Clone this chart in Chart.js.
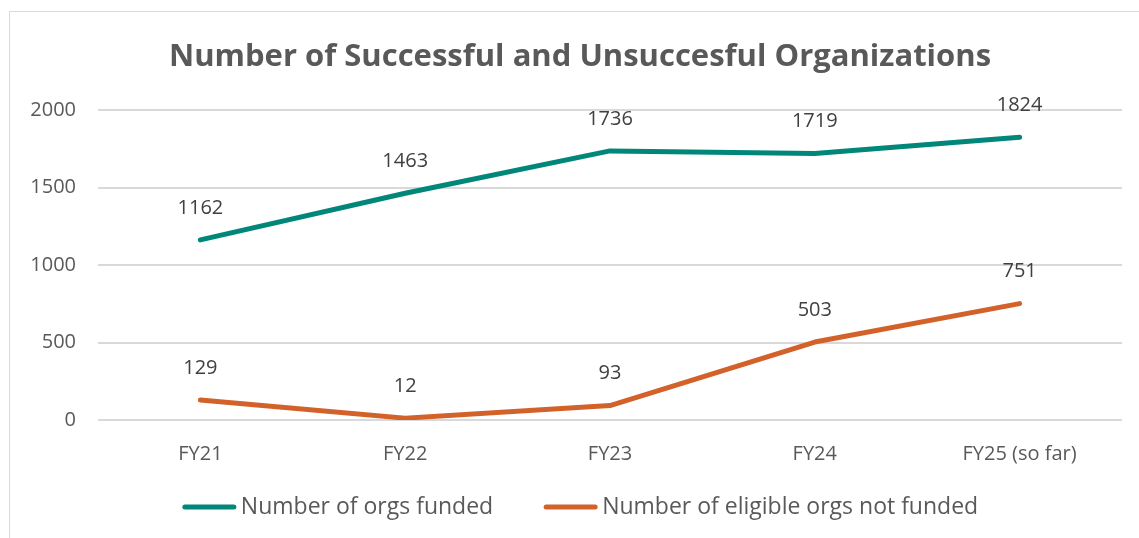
<!DOCTYPE html>
<html lang="en">
<head>
  <meta charset="UTF-8">
  <title>Number of Successful and Unsuccesful Organizations</title>
  <script src="https://cdn.jsdelivr.net/npm/chart.js"></script>
  <style>
    body { margin: 0; background: #fff; overflow: hidden; }
    .chart-box {
      position: absolute; left: 9px; top: 11px;
      width: 1142px; height: 545px;
      border: 1px solid #d9d9d9; box-sizing: border-box;
    }
  </style>
</head>
<body>
  <div class="chart-box">
    <canvas id="orgChart"></canvas>
  </div>

  <script>
    // chart data
    const years = ['FY21', 'FY22', 'FY23', 'FY24', 'FY25 (so far)'];
    const funded = [1162, 1463, 1736, 1719, 1824];
    const notFunded = [129, 12, 93, 503, 751];
    const yTicks = [0, 500, 1000, 1500, 2000];

    const TITLE = 'Number of Successful and Unsuccesful Organizations';
    const FONT = "'Open Sans', sans-serif";

    // title centred on the whole chart box (the plot area sits off-centre)
    const boxTitle = {
      id: 'boxTitle',
      afterDraw(chart) {
        const ctx = chart.ctx;
        ctx.save();
        ctx.font = 'bold 31px ' + FONT;
        ctx.fillStyle = '#595959';
        ctx.textAlign = 'center';
        ctx.textBaseline = 'alphabetic';
        ctx.fillText(TITLE, chart.width / 2, 54);
        ctx.restore();
      }
    };

    // draws the number above every point
    const valueLabels = {
      id: 'valueLabels',
      afterDatasetsDraw(chart) {
        const ctx = chart.ctx;
        ctx.save();
        ctx.font = '20px ' + FONT;
        ctx.fillStyle = '#404040';
        ctx.textAlign = 'center';
        ctx.textBaseline = 'middle';
        chart.data.datasets.forEach((ds, i) => {
          chart.getDatasetMeta(i).data.forEach((pt, j) => {
            ctx.fillText(ds.data[j], pt.x, pt.y - 32);
          });
        });
        ctx.restore();
      }
    };

    // Excel style legend: short thick line right next to the text
    const lineLegend = {
      id: 'lineLegend',
      afterDraw(chart) {
        const ctx = chart.ctx;
        const sample = 55, gap = 4, between = 50;
        ctx.save();
        ctx.font = '23px ' + FONT;
        const items = chart.data.datasets.map(ds => ({
          text: ds.label, color: ds.borderColor, w: ctx.measureText(ds.label).width
        }));
        let total = items.reduce((s, it) => s + sample + gap + it.w, 0) + between * (items.length - 1);
        let x = (chart.width - total) / 2;
        const y = chart.height - 48;
        ctx.textBaseline = 'middle';
        ctx.lineCap = 'round';
        ctx.lineWidth = 5;
        items.forEach(it => {
          ctx.strokeStyle = it.color;
          ctx.beginPath();
          ctx.moveTo(x + 3, y);
          ctx.lineTo(x + sample - 3, y);
          ctx.stroke();
          ctx.fillStyle = '#595959';
          ctx.fillText(it.text, x + sample + gap, y);
          x += sample + gap + it.w + between;
        });
        ctx.restore();
      }
    };

    const ctx = document.getElementById('orgChart').getContext('2d');
    new Chart(ctx, {
      type: 'line',
      data: {
        labels: years,
        datasets: [
          {
            label: 'Number of orgs funded',
            data: funded,
            borderColor: '#00877a',
            backgroundColor: '#00877a',
            borderWidth: 5,
            borderCapStyle: 'round',
            borderJoinStyle: 'round',
            pointRadius: 0,
            tension: 0
          },
          {
            label: 'Number of eligible orgs not funded',
            data: notFunded,
            borderColor: '#d2622a',
            backgroundColor: '#d2622a',
            borderWidth: 5,
            borderCapStyle: 'round',
            borderJoinStyle: 'round',
            pointRadius: 0,
            tension: 0
          }
        ]
      },
      options: {
        responsive: true,
        maintainAspectRatio: false,
        animation: false,
        layout: { padding: { left: 0, right: 28, top: 98, bottom: 75 } },
        plugins: {
          tooltip: { enabled: false },
          legend: { display: false },
          title: { display: false }
        },
        scales: {
          x: {
            offset: true,
            grid: { display: false },
            border: { display: false },
            ticks: { color: '#595959', font: { family: FONT, size: 20 }, padding: 14 }
          },
          y: {
            min: 0,
            max: 2000,
            afterBuildTicks(axis) { axis.ticks = yTicks.map(v => ({ value: v })); },
            afterFit(axis) { axis.width = 88; },
            grid: { color: '#d9d9d9', lineWidth: 2, drawTicks: false },
            border: { display: false },
            ticks: {
              color: '#595959',
              font: { family: FONT, size: 20 },
              padding: 22,
              callback: v => String(v)
            }
          }
        }
      },
      plugins: [valueLabels, lineLegend, boxTitle]
    });
  </script>
</body>
</html>
